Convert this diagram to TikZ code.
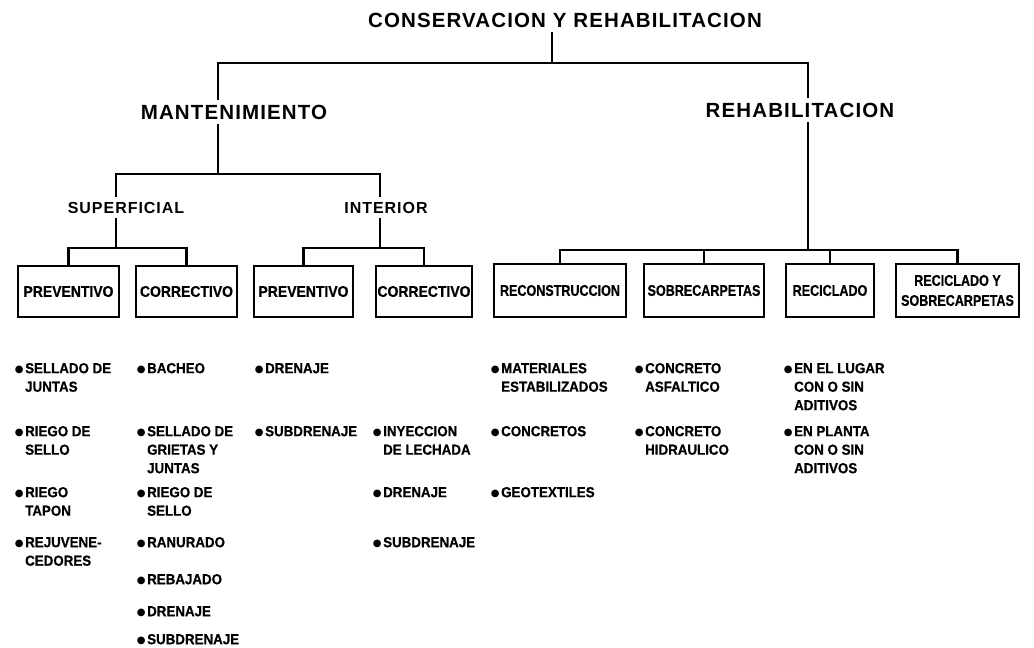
\documentclass[tikz,border=0pt]{standalone}
\usepackage{fontspec}
\setmainfont{Liberation Sans}
\newfontfamily\headf{Liberation Sans}[LetterSpace=5.5]
\newfontfamily\subf{Liberation Sans}[LetterSpace=6]
\newfontfamily\boxf{Liberation Sans}[FakeStretch=0.9,FakeBold=0.6]
\newfontfamily\boxg{Liberation Sans}[FakeStretch=0.81,FakeBold=0.6]
\newfontfamily\itemf{Liberation Sans}[FakeStretch=0.92,FakeBold=0.6]
\newfontfamily\symf{DejaVu Sans}
\newcommand\bul{\llap{\raisebox{0.6pt}{\symf\fontsize{10}{10}\selectfont ●}\hspace{1.5pt}}}
\begin{document}
\begin{tikzpicture}[x=1pt,y=-1pt,
  conn/.style={line width=2.4pt},
  head/.style={inner sep=5pt, font=\headf\bfseries\fontsize{20.5}{24}\selectfont},
  subhead/.style={inner sep=5pt, font=\subf\bfseries\fontsize{16}{19}\selectfont},
  boxa/.style={draw, line width=2.4pt, inner sep=0pt, align=center,
    font=\boxf\bfseries\fontsize{15.5}{20}\selectfont},
  boxb/.style={boxa, font=\boxg\bfseries\fontsize{15.5}{20}\selectfont},
  item/.style={anchor=base west, inner sep=0pt, align=left,
    font=\itemf\bfseries\fontsize{14.5}{18.5}\selectfont}]
\path[fill=white] (0,0) rectangle (1034,648);
\useasboundingbox (0,0) rectangle (1034,648);

% level 0 and 1
\node[head] (title) at (565,20) {CONSERVACION Y REHABILITACION};
\node[head] (mant) at (234,112) {MANTENIMIENTO};
\node[head] (rehab) at (800,110) {REHABILITACION};
\node[subhead] (sup) at (126,207.5) {SUPERFICIAL};
\node[subhead] (int) at (386,207.5) {INTERIOR};

% boxes
\node[boxa, minimum width=101pt, minimum height=51pt] (b1) at (68.5,291.5) {PREVENTIVO};
\node[boxa, minimum width=101pt, minimum height=51pt] (b2) at (186.5,291.5) {CORRECTIVO};
\node[boxa, minimum width=99pt, minimum height=51pt] (b3) at (303.5,291.5) {PREVENTIVO};
\node[boxa, minimum width=96pt, minimum height=51pt] (b4) at (424,291.5) {CORRECTIVO};
\node[boxb, minimum width=132pt, minimum height=53pt] (r1) at (560,290.5) {RECONSTRUCCION};
\node[boxb, minimum width=120pt, minimum height=53pt] (r2) at (704,290.5) {SOBRECARPETAS};
\node[boxb, minimum width=88pt, minimum height=53pt] (r3) at (830,290.5) {RECICLADO};
\node[boxb, minimum width=123pt, minimum height=53pt] (r4) at (957.5,290.5) {RECICLADO Y\\SOBRECARPETAS};

% junctions
\coordinate (j0) at (552,63);
\coordinate (a1) at (218,63);
\coordinate (a2) at (808,63);
\coordinate (m1) at (218,174);
\coordinate (m2) at (116,174);
\coordinate (m3) at (380,174);
\coordinate (p0) at (116,248);
\coordinate (q0) at (380,248);
\coordinate (r0) at (808,250);

% connectors
\draw[conn] (title.south -| j0) -- (j0);
\draw[conn] (mant.north -| a1) -- (a1) -- (a2) -- (rehab.north -| a2);
\draw[conn] (mant.south -| m1) -- (m1);
\draw[conn] (sup.north -| m2) -- (m2) -- (m3) -- (int.north -| m3);
\draw[conn] (sup.south -| p0) -- (p0);
\draw[conn] (b1.north) |- (p0) -| (b2.north);
\draw[conn] (int.south -| q0) -- (q0);
\draw[conn] (b3.north) |- (q0) -| (b4.north);
\draw[conn] (rehab.south -| r0) -- (r0);
\draw[conn] (r1.north) |- (r0) -| (r4.north);
\draw[conn] (r2.north) -- (r2.north |- r0);
\draw[conn] (r3.north) -- (r3.north |- r0);

% lists (anchor = baseline of the last line)
\node[item] (i11) at (25,391.7) {\bul SELLADO DE\\JUNTAS};
\node[item] (i12) at (25,454.7) {\bul RIEGO DE\\SELLO};
\node[item] (i13) at (25,515.7) {\bul RIEGO\\TAPON};
\node[item] (i14) at (25,565.7) {\bul REJUVENE-\\CEDORES};

\node[item] (i21) at (147,373.2) {\bul BACHEO};
\node[item] (i22) at (147,473.2) {\bul SELLADO DE\\GRIETAS Y\\JUNTAS};
\node[item] (i23) at (147,515.7) {\bul RIEGO DE\\SELLO};
\node[item] (i24) at (147,547.2) {\bul RANURADO};
\node[item] (i25) at (147,584.2) {\bul REBAJADO};
\node[item] (i26) at (147,616.2) {\bul DRENAJE};
\node[item] (i27) at (147,644.2) {\bul SUBDRENAJE};

\node[item] (i31) at (265,373.2) {\bul DRENAJE};
\node[item] (i32) at (265,436.2) {\bul SUBDRENAJE};

\node[item] (i41) at (383,454.7) {\bul INYECCION\\DE LECHADA};
\node[item] (i42) at (383,497.2) {\bul DRENAJE};
\node[item] (i43) at (383,547.2) {\bul SUBDRENAJE};

\node[item] (i51) at (501,391.7) {\bul MATERIALES\\ESTABILIZADOS};
\node[item] (i52) at (501,436.2) {\bul CONCRETOS};
\node[item] (i53) at (501,497.2) {\bul GEOTEXTILES};

\node[item] (i61) at (645,391.7) {\bul CONCRETO\\ASFALTICO};
\node[item] (i62) at (645,454.7) {\bul CONCRETO\\HIDRAULICO};

\node[item] (i71) at (794,410.2) {\bul EN EL LUGAR\\CON O SIN\\ADITIVOS};
\node[item] (i72) at (794,473.2) {\bul EN PLANTA\\CON O SIN\\ADITIVOS};
\end{tikzpicture}
\end{document}
